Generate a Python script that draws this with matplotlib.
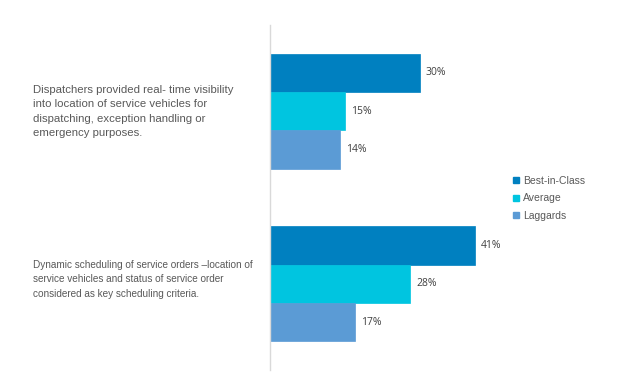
import matplotlib
matplotlib.use("Agg")
import matplotlib.pyplot as plt
from matplotlib.lines import Line2D

plt.rcParams['font.family'] = ['Liberation Sans', 'DejaVu Sans']

categories = [
    "Dispatchers provided real- time visibility\ninto location of service vehicles for\ndispatching, exception handling or\nemergency purposes.",
    "Dynamic scheduling of service orders \u2013location of\nservice vehicles and status of service order\nconsidered as key scheduling criteria.",
]
series_names = ["Best-in-Class", "Average", "Laggards"]
best_in_class = [30, 41]
average = [15, 28]
laggards = [14, 17]
colors = ["#0080C0", "#00C5E0", "#5B9BD5"]

W, H = 617, 380
fig = plt.figure(figsize=(W / 100, H / 100), dpi=100)
ax = fig.add_axes([270 / W, 10 / H, 250 / W, 345 / H])
ax.set_xlim(0, 50)
ax.set_ylim(1.5, -0.5)

bh = 0.2225
series = [best_in_class, average, laggards]
for i, (vals, col) in enumerate(zip(series, colors)):
    ys = [c + (i - 1) * bh for c in range(len(categories))]
    ax.barh(ys, vals, height=bh, color=col, edgecolor=col, linewidth=0.5)
    for y, v in zip(ys, vals):
        ax.text(v + 1.2, y, f"{v}%", va="center", ha="left", fontsize=7.5,
                color="#404040", family=['Open Sans', 'DejaVu Sans'], clip_on=False)

for s in ["top", "right", "bottom"]:
    ax.spines[s].set_visible(False)
ax.spines["left"].set_color("#D9D9D9")
ax.spines["left"].set_linewidth(1)
ax.set_xticks([])
ax.set_yticks([])

# category texts
fig.text(33 / W, 1 - 85 / H, categories[0], ha="left", va="top", fontsize=8.2,
         color="#595959", linespacing=1.55)
fig.text(33 / W, 1 - 260 / H, categories[1], ha="left", va="top", fontsize=7.2,
         color="#595959", linespacing=1.55)

handles = [Line2D([0], [0], marker="s", linestyle="", markersize=4.5,
                  markerfacecolor=c, markeredgecolor=c) for c in colors]
fig.legend(handles, series_names, loc="upper left",
           bbox_to_anchor=(512 / W, 1 - 176 / H), frameon=False,
           fontsize=7.5, labelcolor="#595959", handlelength=0.8,
           handletextpad=0.22, labelspacing=0.7, borderpad=0, borderaxespad=0)

fig.savefig("out.png", dpi=100, facecolor="white")
